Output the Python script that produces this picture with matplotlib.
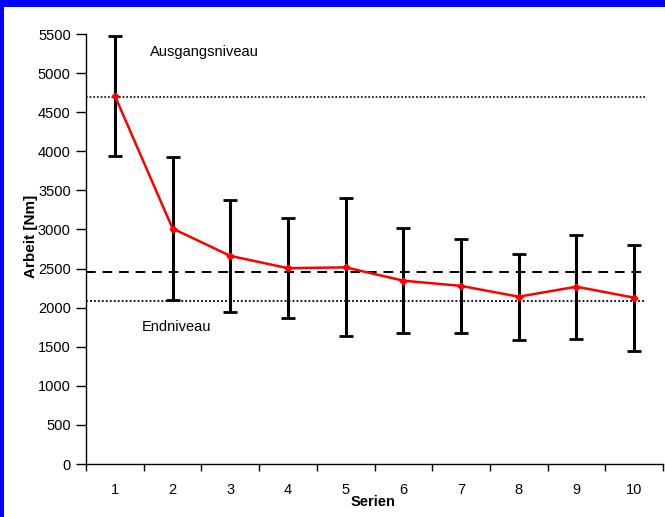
import matplotlib
matplotlib.use("Agg")
import matplotlib.pyplot as plt
from matplotlib.patches import Rectangle
import numpy as np

plt.rcParams['font.family'] = ['Liberation Sans', 'DejaVu Sans']

serien = [1, 2, 3, 4, 5, 6, 7, 8, 9, 10]
arbeit_mean = [4710, 3012, 2662, 2505, 2515, 2345, 2278, 2140, 2268, 2127]
arbeit_sd = [770, 916, 714, 643, 882, 672, 598, 550, 665, 680]
ausgangsniveau = 4695
endniveau = 2090
mittelwert = 2462
y_ticks = [0, 500, 1000, 1500, 2000, 2500, 3000, 3500, 4000, 4500, 5000, 5500]

W, H = 665, 517
fig = plt.figure(figsize=(W / 100, H / 100), dpi=100, facecolor='white')
# blue frame (top and left)
fig.patches.append(Rectangle((0, 1 - 7 / H), 1, 7 / H, transform=fig.transFigure,
                             facecolor='#0000FF', edgecolor='none', zorder=0))
fig.patches.append(Rectangle((0, 0), 4 / W, 1, transform=fig.transFigure,
                             facecolor='#0000FF', edgecolor='none', zorder=0))

ax = fig.add_axes([86 / W, (H - 464) / H, (663 - 86) / W, (464 - 34) / H])
ax.set_facecolor('white')

x = np.array(serien)
xend = 0.5 + (645 - 86) / 57.7
ax.hlines(ausgangsniveau, 0.5, xend, colors='black', linestyles=(0, (1, 1.2)), linewidth=1.2, zorder=2)
ax.hlines(endniveau, 0.5, xend, colors='black', linestyles=(0, (1, 1.2)), linewidth=1.3, zorder=2)
ax.hlines(mittelwert, 0.5, xend, colors='black', linestyles=(0, (5, 3.5)), linewidth=1.4, zorder=2)

ax.errorbar(x, arbeit_mean, yerr=arbeit_sd, fmt='none', ecolor='black',
            elinewidth=2.2, capsize=5, capthick=2.0, zorder=3)
ax.plot(x, arbeit_mean, color='#FF0000', linewidth=1.8, marker='D', markersize=3.5,
        markerfacecolor='#FF0000', markeredgecolor='#FF0000', zorder=4)

ax.text(1.61, 5270, 'Ausgangsniveau', fontsize=10.5, va='center', ha='left')
ax.text(1.46, 1752, 'Endniveau', fontsize=10.5, va='center', ha='left')

ax.set_xlim(0.5, 10.5)
ax.set_ylim(0, 5500)
ax.set_yticks(y_ticks)
ax.set_yticklabels([str(v) for v in y_ticks], fontsize=10.5)
ax.set_xticks(x)
ax.set_xticklabels([str(v) for v in serien], fontsize=10.5)
ax.set_xticks(np.arange(0.5, 11.0, 1.0), minor=True)
ax.tick_params(axis='x', which='major', length=0, pad=14)
ax.tick_params(axis='x', which='minor', length=5, width=1, direction='out')
ax.tick_params(axis='y', length=7, width=1, direction='out', pad=4)

for s in ['top', 'right']:
    ax.spines[s].set_visible(False)
for s in ['left', 'bottom']:
    ax.spines[s].set_linewidth(1)
    ax.spines[s].set_color('black')

ax.set_ylabel('Arbeit [Nm]', fontsize=11, fontweight='bold')
ax.yaxis.set_label_coords(-0.083, 0.53)
ax.set_xlabel('Serien', fontsize=10.5, fontweight='bold')
ax.xaxis.set_label_coords(0.497, -0.072)

fig.savefig('out.png', dpi=100, facecolor=fig.get_facecolor())
